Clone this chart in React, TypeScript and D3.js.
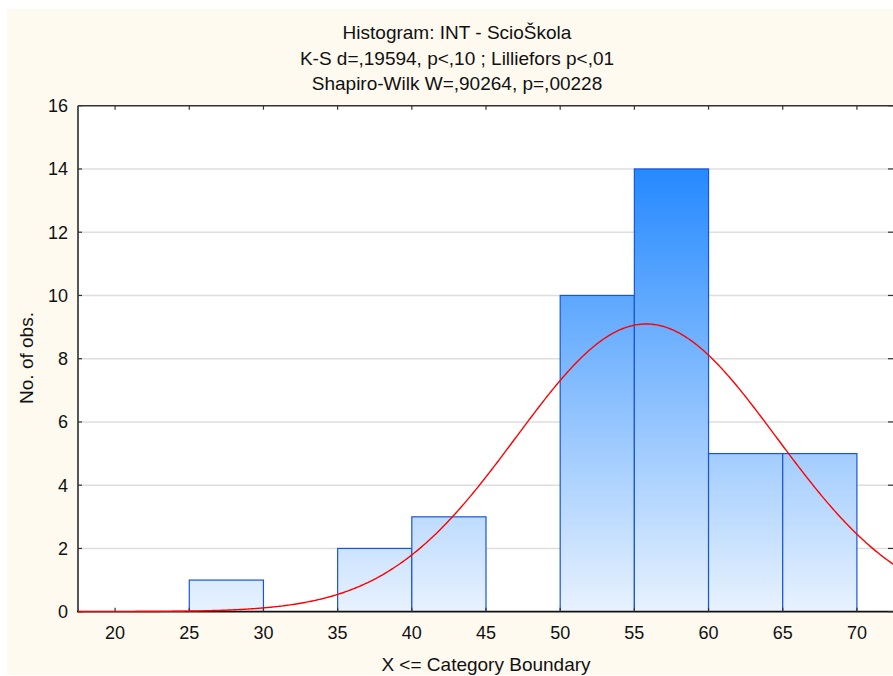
import React from "react";
import * as d3 from "d3";

const binStarts = [25, 35, 40, 50, 55, 60, 65];
const binCounts = [1, 2, 3, 10, 14, 5, 5];
const binWidth = 5;
const xTicks = [20, 25, 30, 35, 40, 45, 50, 55, 60, 65, 70];
const yTicks = [0, 2, 4, 6, 8, 10, 12, 14, 16];
const titleLines = [
  "Histogram: INT - ScioŠkola",
  "K-S d=,19594, p<,10 ; Lilliefors p<,01",
  "Shapiro-Wilk W=,90264, p=,00228",
];
const xLabel = "X <= Category Boundary";
const yLabel = "No. of obs.";
// fitted normal curve parameters (expected counts)
const fitMean = 55.8;
const fitSd = 8.77;
const fitN = 40;

const W = 893;
const H = 676;
const L = 78;
const R = 894;
const T = 105.7;
const B = 611.7;
const FONT = "'Liberation Sans', Arial, sans-serif";
const FS = 18;
const FS_T = 19;

export default function App() {
  const x = d3.scaleLinear().domain([17.5, 72.5]).range([L, R]);
  const y = d3.scaleLinear().domain([0, 16]).range([B, T]);

  const pdf = (v: number) =>
    (fitN * binWidth) / (fitSd * Math.sqrt(2 * Math.PI)) *
    Math.exp(-0.5 * ((v - fitMean) / fitSd) ** 2);
  const curvePts = d3.range(17.5, 72.51, 0.1).map((v) => [v, pdf(v)] as [number, number]);
  const line = d3
    .line<[number, number]>()
    .x((d) => x(d[0]))
    .y((d) => y(d[1]))
    .curve(d3.curveLinear);

  return (
    <svg
      width={W}
      height={H}
      style={{ position: "absolute", left: 0, top: 0, display: "block" }}
      fontFamily={FONT}
    >
      <defs>
        <linearGradient id="barGrad" gradientUnits="userSpaceOnUse" x1="0" y1={y(16)} x2="0" y2={y(0)}>
          <stop offset="0" stopColor="#097aff" />
          <stop offset="1" stopColor="#e8f2fe" />
        </linearGradient>
        <clipPath id="plotClip">
          <rect x={L} y={T} width={R - L} height={B - T} />
        </clipPath>
        <clipPath id="curveClip">
          <rect x={L} y={T} width={R - L} height={B - T + 1} />
        </clipPath>
      </defs>
      <rect x={0} y={0} width={W} height={H} fill="#ffffff" />
      <rect x={7} y={9} width={W - 7} height={666} fill="#fefaf0" />
      <rect x={L} y={T} width={R - L} height={B - T} fill="#ffffff" />

      {/* grid */}
      {yTicks.slice(1, -1).map((t) => (
        <line key={"g" + t} x1={L} x2={R} y1={y(t)} y2={y(t)} stroke="#dedede" strokeWidth={1.6} />
      ))}

      {/* bars */}
      <g clipPath="url(#plotClip)">
        {binStarts.map((s, i) => (
          <rect
            key={"b" + i}
            x={x(s)}
            y={y(binCounts[i])}
            width={x(s + binWidth) - x(s)}
            height={y(0) - y(binCounts[i])}
            fill="url(#barGrad)"
            stroke="#1a55d6"
            strokeWidth={1.2}
          />
        ))}
      </g>

      {/* axes frame */}
      <line x1={L} x2={R} y1={T} y2={T} stroke="#333" strokeWidth={1.5} />
      <line x1={L} x2={L} y1={T} y2={B} stroke="#444" strokeWidth={1.8} />
      <line x1={L - 1} x2={R} y1={B} y2={B} stroke="#111" strokeWidth={1.8} />

      {/* ticks */}
      {yTicks.map((t) => (
        <g key={"yt" + t}>
          <line x1={L} x2={L + 4} y1={y(t)} y2={y(t)} stroke="#333" strokeWidth={1.2} />
          <line x1={R - 6} x2={R} y1={y(t)} y2={y(t)} stroke="#333" strokeWidth={1.2} />
          <text x={68} y={y(t)} dy="0.36em" textAnchor="end" fontSize={FS} fill="#111">
            {t}
          </text>
        </g>
      ))}
      {xTicks.map((t) => (
        <g key={"xt" + t}>
          <line x1={x(t)} x2={x(t)} y1={B} y2={B - 4} stroke="#333" strokeWidth={1.2} />
          <line x1={x(t)} x2={x(t)} y1={T} y2={T + 4} stroke="#333" strokeWidth={1.2} />
          <text x={x(t)} y={639} textAnchor="middle" fontSize={FS} fill="#111">
            {t}
          </text>
        </g>
      ))}

      {/* fitted normal curve */}
      <g clipPath="url(#curveClip)">
        <path d={line(curvePts) || ""} fill="none" stroke="#ff0000" strokeWidth={1.4} />
      </g>

      {/* titles */}
      {titleLines.map((s, i) => (
        <text key={"t" + i} x={457} y={39 + i * 25.5} textAnchor="middle" fontSize={FS_T} fill="#111">
          {s}
        </text>
      ))}
      <text x={486} y={670.5} textAnchor="middle" fontSize={FS_T} fill="#111">
        {xLabel}
      </text>
      <text
        transform={`translate(33, 358) rotate(-90)`}
        textAnchor="middle"
        fontSize={FS_T}
        fill="#111"
      >
        {yLabel}
      </text>
    </svg>
  );
}
